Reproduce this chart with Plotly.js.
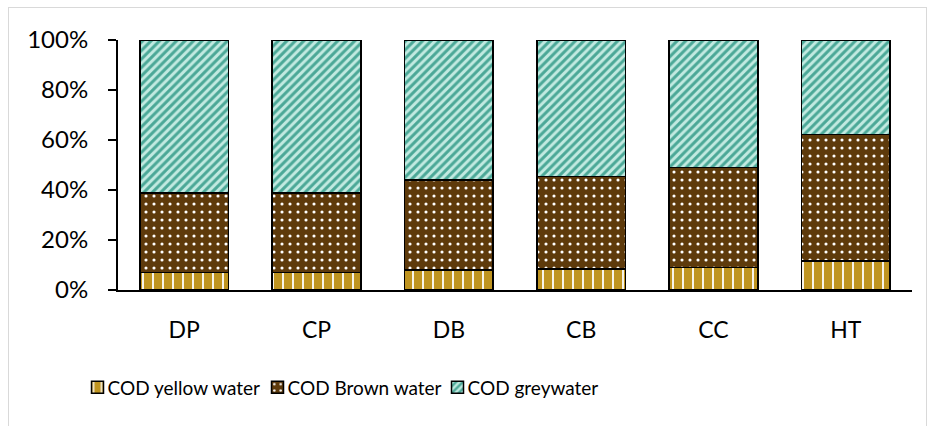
<!DOCTYPE html>
<html>
<head>
<meta charset="utf-8">
<script src="https://cdn.plot.ly/plotly-3.0.1.min.js"></script>
<style>
html,body{margin:0;padding:0;background:#fff;}
#wrap{position:relative;width:929px;height:426px;overflow:hidden;}
#frame{position:absolute;left:8px;top:7px;width:919px;height:440px;border:1.5px solid #d9d9d9;box-sizing:border-box;pointer-events:none;}
#chart{position:absolute;left:0;top:0;width:929px;height:426px;}
</style>
</head>
<body>
<div id="wrap">
<div id="chart"></div>
<div id="frame"></div>
</div>
<script>
// Data (shares in %)
var categories = ["DP", "CP", "DB", "CB", "CC", "HT"];
var yellowWater = [7.1, 7.1, 8.1, 8.5, 9.1, 11.7];
var brownWater  = [31.8, 31.8, 36.0, 36.9, 39.9, 50.5];
var greyWater   = [61.1, 61.1, 55.9, 54.6, 51.0, 37.8];
var seriesNames = ["COD yellow water", "COD Brown water", "COD greywater"];
var yTickVals = [0, 20, 40, 60, 80, 100];
var yTickText = ["0%", "20%", "40%", "60%", "80%", "100%"];

var FONT = "Lato, 'Open Sans', sans-serif";

var traces = [
  {
    type: "bar", name: seriesNames[0], x: categories, y: yellowWater,
    marker: {
      color: "#BF9420",
      line: {color: "#000", width: 1.5},
      pattern: {shape: "|", fgcolor: "#ffffff", bgcolor: "#BF9420", size: 10, solidity: 0.18}
    },
    hoverinfo: "skip"
  },
  {
    type: "bar", name: seriesNames[1], x: categories, y: brownWater,
    marker: {
      color: "#5E3A0B",
      line: {color: "#000", width: 1.5},
      pattern: {shape: ".", fgcolor: "#ffffff", bgcolor: "#5E3A0B", size: 8, solidity: 0.12}
    },
    hoverinfo: "skip"
  },
  {
    type: "bar", name: seriesNames[2], x: categories, y: greyWater,
    marker: {
      color: "#B9E5DB",
      line: {color: "#000", width: 1.5},
      pattern: {shape: "/", fgcolor: "#4BA897", bgcolor: "#C2EAE1", size: 6, solidity: 0.5}
    },
    hoverinfo: "skip"
  }
];

var layout = {
  width: 929, height: 426,
  margin: {l: 118, r: 17, t: 40, b: 136, pad: 0},
  paper_bgcolor: "rgba(0,0,0,0)",
  plot_bgcolor: "rgba(0,0,0,0)",
  barmode: "stack",
  bargap: 0.33,
  showlegend: true,
  font: {family: FONT, size: 20, color: "#000"},
  xaxis: {
    type: "category",
    showline: true, linecolor: "#000", linewidth: 2,
    ticks: "", showgrid: false, zeroline: false,
    ticklabelstandoff: 18,
    tickfont: {family: FONT, size: 23, color: "#000"}
  },
  yaxis: {
    range: [0, 100], fixedrange: true,
    showline: true, linecolor: "#000", linewidth: 2,
    ticks: "outside", ticklen: 8, tickwidth: 2, tickcolor: "#000",
    tickvals: yTickVals, ticktext: yTickText,
    showgrid: false, zeroline: false,
    ticklabelstandoff: 15,
    tickfont: {family: FONT, size: 24, color: "#000"}
  },
  legend: {
    orientation: "h",
    x: -0.051, xanchor: "left",
    y: -0.39, yanchor: "middle",
    traceorder: "normal",
    entrywidth: 135, entrywidthmode: "pixels",
    font: {family: FONT, size: 19, color: "#000"},
    bgcolor: "rgba(0,0,0,0)"
  }
};

Plotly.newPlot("chart", traces, layout, {displayModeBar: false, staticPlot: true}).then(function (gd) {
  // pull legend labels closer to their swatches, as in the reference
  var texts = gd.querySelectorAll(".legend .legendtext");
  texts.forEach(function (t) {
    var x = parseFloat(t.getAttribute("x")) || 0;
    t.setAttribute("x", x - 10);
  });
});
</script>
</body>
</html>
